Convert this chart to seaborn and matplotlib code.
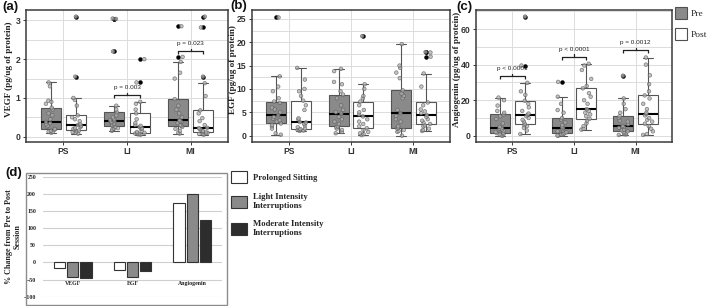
import numpy as np
import pandas as pd
import matplotlib
matplotlib.use("Agg")
import matplotlib.pyplot as plt
from matplotlib.ticker import MultipleLocator
from matplotlib.patches import Rectangle, Patch
import seaborn as sns

sns.set_theme(style="white")
plt.rcParams['font.family'] = ['Liberation Sans', 'DejaVu Sans']

# ---------------- data ----------------
sessions = ["PS", "LI", "MI"]
conditions = ["Pre", "Post"]

vegf_ps_pre = [0.1, 0.12, 0.13, 0.15, 0.18, 0.2, 0.25, 0.28, 0.32, 0.35, 0.38, 0.45, 0.55, 0.6, 0.7, 0.75, 0.85, 0.9, 0.93, 1.3, 1.4]
vegf_ps_post = [0.08, 0.1, 0.12, 0.14, 0.16, 0.18, 0.2, 0.22, 0.25, 0.28, 0.3, 0.32, 0.4, 0.45, 0.5, 0.55, 0.8, 0.95, 1.0, 1.55, 3.1]
vegf_li_pre = [0.15, 0.18, 0.2, 0.22, 0.25, 0.28, 0.3, 0.33, 0.35, 0.38, 0.4, 0.42, 0.45, 0.5, 0.55, 0.63, 0.7, 0.8, 2.2, 3.04, 3.05]
vegf_li_post = [0.05, 0.06, 0.07, 0.08, 0.09, 0.1, 0.12, 0.15, 0.2, 0.22, 0.25, 0.28, 0.3, 0.35, 0.45, 0.6, 0.7, 0.85, 0.9, 1.4, 2.0]
vegf_mi_pre = [0.08, 0.1, 0.15, 0.2, 0.25, 0.28, 0.3, 0.35, 0.38, 0.4, 0.42, 0.5, 0.6, 0.7, 0.8, 0.97, 1.5, 1.65, 1.93, 2.06, 2.85]
vegf_mi_post = [0.05, 0.07, 0.08, 0.1, 0.11, 0.13, 0.15, 0.18, 0.2, 0.22, 0.23, 0.3, 0.4, 0.48, 0.6, 0.68, 1.05, 1.38, 1.55, 2.82, 3.1]

egf_ps_pre = [0.2, 0.5, 1.5, 2.0, 2.3, 2.6, 3.0, 3.3, 3.6, 4.0, 4.4, 5.0, 5.6, 6.0, 7.0, 7.3, 8.0, 9.5, 10.5, 12.7, 25.3]
egf_ps_post = [1.0, 1.1, 1.2, 1.3, 1.4, 1.5, 1.8, 2.2, 2.5, 2.8, 2.9, 3.5, 3.7, 5.5, 6.5, 7.5, 8.5, 9.5, 10.0, 12.0, 14.5]
egf_li_pre = [0.5, 0.8, 1.2, 1.5, 1.8, 2.0, 2.5, 3.0, 3.5, 4.0, 4.7, 5.0, 5.5, 6.5, 8.0, 8.8, 9.5, 11.0, 11.5, 13.8, 14.3]
egf_li_post = [0.1, 0.3, 0.5, 0.8, 1.2, 1.6, 2.0, 2.5, 3.0, 3.5, 4.1, 4.5, 5.0, 5.5, 6.5, 7.3, 8.0, 8.5, 10.0, 11.0, 21.3]
egf_mi_pre = [0.0, 0.8, 1.0, 1.2, 1.5, 1.7, 2.0, 3.0, 3.5, 4.2, 4.8, 5.5, 8.0, 8.5, 9.0, 9.7, 12.3, 13.5, 14.5, 15.0, 19.6]
egf_mi_post = [1.0, 1.2, 1.5, 2.0, 2.2, 2.5, 2.8, 3.2, 3.5, 4.0, 4.4, 4.8, 5.2, 5.6, 6.5, 7.1, 10.5, 13.3, 16.9, 17.8, 17.9]

ang_ps_pre = [0.0, 0.3, 0.8, 1.0, 1.5, 1.8, 2.2, 2.8, 3.5, 4.0, 4.3, 5.0, 7.0, 9.5, 11.0, 12.0, 13.0, 14.0, 17.0, 20.0, 21.5]
ang_ps_post = [1.0, 3.0, 4.5, 5.5, 6.0, 6.8, 8.0, 9.0, 10.0, 11.0, 11.8, 12.5, 14.0, 16.0, 18.0, 19.7, 23.0, 25.0, 29.8, 39.5, 67.0]
ang_li_pre = [0.0, 0.2, 0.5, 0.8, 1.0, 1.5, 2.0, 2.5, 3.0, 3.8, 4.5, 5.0, 6.0, 7.5, 9.0, 10.0, 13.0, 14.5, 18.0, 22.0, 30.3]
ang_li_post = [3.5, 4.0, 5.5, 7.0, 8.5, 9.6, 11.0, 12.0, 13.0, 14.0, 15.0, 18.0, 20.0, 22.0, 24.0, 26.7, 28.0, 32.0, 37.0, 39.5, 40.5]
ang_mi_pre = [0.5, 0.8, 1.0, 1.5, 2.0, 2.5, 3.0, 3.5, 4.5, 5.0, 5.5, 6.5, 8.0, 8.5, 10.0, 11.0, 13.0, 15.0, 18.0, 21.0, 33.8]
ang_mi_post = [0.5, 1.0, 2.5, 4.0, 5.5, 6.8, 8.0, 9.0, 10.0, 11.5, 12.3, 13.0, 15.0, 18.0, 21.0, 22.7, 25.0, 29.0, 34.0, 40.0, 44.0]

vegf_p = [("LI", 1.07, "p = 0.003"), ("MI", 2.2, "p = 0.023")]
ang_p = [("PS", 33.5, "p < 0.0001"), ("LI", 44.3, "p < 0.0001"), ("MI", 48.0, "p = 0.0012")]

markers = ["VEGF", "EGF", "Angiogenin"]
interventions = ["Prolonged Sitting", "Light Intensity\nInterruptions", "Moderate Intensity\nInterruptions"]
pct_ps = [-16, -21, 172]
pct_li = [-43, -42, 201]
pct_mi = [-45, -24, 125]


def long_frame(groups):
    rows = []
    for (s, c), vals in groups.items():
        for v in vals:
            rows.append({"Session": s, "Condition": c, "Value": v})
    return pd.DataFrame(rows)


df_vegf = long_frame({("PS", "Pre"): vegf_ps_pre, ("PS", "Post"): vegf_ps_post,
                      ("LI", "Pre"): vegf_li_pre, ("LI", "Post"): vegf_li_post,
                      ("MI", "Pre"): vegf_mi_pre, ("MI", "Post"): vegf_mi_post})
df_egf = long_frame({("PS", "Pre"): egf_ps_pre, ("PS", "Post"): egf_ps_post,
                     ("LI", "Pre"): egf_li_pre, ("LI", "Post"): egf_li_post,
                     ("MI", "Pre"): egf_mi_pre, ("MI", "Post"): egf_mi_post})
df_ang = long_frame({("PS", "Pre"): ang_ps_pre, ("PS", "Post"): ang_ps_post,
                     ("LI", "Pre"): ang_li_pre, ("LI", "Post"): ang_li_post,
                     ("MI", "Pre"): ang_mi_pre, ("MI", "Post"): ang_mi_post})

df_pct = pd.DataFrame({
    "Marker": markers * 3,
    "Intervention": [interventions[0]] * 3 + [interventions[1]] * 3 + [interventions[2]] * 3,
    "Pct": pct_ps + pct_li + pct_mi,
})

# ---------------- figure ----------------
W, H = 709, 306
fig = plt.figure(figsize=(W / 100, H / 100), dpi=100)


def px_axes(l, t, r, b):
    return fig.add_axes([l / W, 1 - b / H, (r - l) / W, (b - t) / H])


ax_a = px_axes(26, 10, 228, 141.7)
ax_b = px_axes(252, 10, 450, 141.7)
ax_c = px_axes(476, 10, 672, 141.7)

box_pal = {"Pre": "#8a8a8a", "Post": "#ffffff"}
pt_pal = {"Pre": "#b0b0b0", "Post": "#b0b0b0"}
serif = ["Liberation Serif", "DejaVu Serif"]
sans = ["Liberation Sans", "DejaVu Sans"]

panels = [
    (ax_a, df_vegf, "VEGF (pg/ug of protein)", (-0.13, 3.27), 1, 0.5, vegf_p, -0.062),
    (ax_b, df_egf, "EGF (pg/ug of protein)", (-1.3, 26.9), 5, 2.5, [], -0.076),
    (ax_c, df_ang, "Angiogenin (pg/ug of protein)", (-3.3, 70.7), 20, 10, ang_p, -0.077),
]

np.random.seed(3)
for ax, df, ylab, ylim, major, minor, pvals, labx in panels:
    sns.boxplot(data=df, x="Session", y="Value", hue="Condition", order=sessions,
                hue_order=conditions, palette=box_pal, width=0.8, gap=0.2,
                linecolor="#555555", linewidth=0.8, ax=ax, legend=(ax is ax_c),
                medianprops=dict(color="black", linewidth=1.5),
                flierprops=dict(marker="o", markerfacecolor="black", markeredgecolor="black",
                                markersize=2.2))
    sns.stripplot(data=df, x="Session", y="Value", hue="Condition", order=sessions,
                  hue_order=conditions, palette=pt_pal, dodge=True, jitter=0.16,
                  size=2.6, linewidth=0.5, edgecolor="#5a5a5a", alpha=0.75,
                  ax=ax, legend=False)
    ax.set_xlim(-0.59, 2.59)
    ax.set_ylim(*ylim)
    ax.yaxis.set_major_locator(MultipleLocator(major))
    ax.yaxis.set_minor_locator(MultipleLocator(minor))
    ax.grid(axis="y", which="both", color="#dcdcdc", linewidth=0.7)
    ax.grid(axis="x", which="major", color="#dcdcdc", linewidth=0.7)
    ax.set_axisbelow(True)
    for sp in ax.spines.values():
        sp.set_visible(True)
        sp.set_color("#3a3a3a")
        sp.set_linewidth(1.1)
    ax.tick_params(axis="both", which="major", length=2.5, width=0.7, color="#3a3a3a",
                   labelsize=6.2, pad=1.5, labelcolor="#333333", bottom=True, left=True)
    ax.tick_params(axis="both", which="minor", length=0)
    for t in ax.get_xticklabels() + ax.get_yticklabels():
        t.set_fontweight("bold")
        t.set_family(sans)
    ax.set_xlabel("")
    ax.set_ylabel(ylab, family=serif, fontweight="bold", fontsize=6.6, color="#222222")
    ax.yaxis.set_label_coords(labx, 0.55)
    # significance brackets
    pxu = 131.7 / (ylim[1] - ylim[0])
    d = 3.0 / pxu
    for s, y, txt in pvals:
        i = sessions.index(s)
        x0, x1 = i - 0.2, i + 0.2
        ax.plot([x0, x0, x1, x1], [y - d, y, y, y - d], color="#222222", lw=0.9,
                solid_capstyle="butt", zorder=5)
        ax.plot([i, i], [y, y + 0.9 * d], color="#222222", lw=0.9, zorder=5)
        ax.text(i, y + 7.5 / pxu, txt, ha="center", va="center", fontsize=4.6,
                color="#222222", family=sans, zorder=5)

# Pre / Post legend
ax_c.get_legend().remove()
hs = [Patch(facecolor=box_pal[c], edgecolor="#505050", linewidth=0.8) for c in conditions]
fig.legend(hs, conditions, loc="upper left", bbox_to_anchor=(675 / W, 1 - 7 / H),
           frameon=False, prop={"family": serif, "size": 6.8},
           handlelength=1.3, handleheight=1.6, handletextpad=0.35, labelspacing=0.9,
           borderaxespad=0, borderpad=0)

# panel letters
for lbl, x, y in [("(a)", 2, 7), ("(b)", 230, 6), ("(c)", 456, 7), ("(d)", 5, 173)]:
    fig.text(x / W, 1 - y / H, lbl, fontsize=9.5, fontweight="bold", family=sans,
             ha="left", va="center", color="#111111")

# ---------------- panel (d) ----------------
ax_d = px_axes(43, 176.7, 222, 296.7)
bar_pal = {interventions[0]: "#ffffff", interventions[1]: "#8a8a8a", interventions[2]: "#2d2d2d"}
sns.barplot(data=df_pct, x="Marker", y="Pct", hue="Intervention", order=markers,
            hue_order=interventions, palette=bar_pal, width=0.66, gap=0.15,
            edgecolor="#333333", linewidth=0.8, ax=ax_d, legend=True)
ax_d.set_ylim(-100, 250)
ax_d.set_xlim(-0.5, 2.5)
ax_d.yaxis.set_major_locator(MultipleLocator(50))
ax_d.grid(axis="y", color="#cfcfcf", linewidth=0.8)
ax_d.grid(axis="x", visible=False)
ax_d.set_axisbelow(True)
for sp in ax_d.spines.values():
    sp.set_visible(False)
ax_d.tick_params(axis="y", length=0, pad=5, labelsize=4.2)
ax_d.tick_params(axis="x", length=0, pad=-11, labelsize=4.2)
for t in ax_d.get_xticklabels() + ax_d.get_yticklabels():
    t.set_family(serif)
    t.set_fontweight("bold")
    t.set_color("#222222")
ax_d.set_xlabel("")
ax_d.set_ylabel("% Change from Pre to Post\nSession", family=serif, fontweight="bold",
                fontsize=5.8, color="#222222", linespacing=1.1)
ax_d.yaxis.set_label_coords(-21 / 179, 0.5)

# outer chart border of (d)
fig.patches.append(Rectangle((26 / W, 1 - 305 / H), (226.7 - 26) / W, (305 - 172.7) / H,
                             transform=fig.transFigure, fill=False, edgecolor="#8c8c8c",
                             linewidth=1.0))

ax_d.get_legend().remove()
hd = [Patch(facecolor=bar_pal[k], edgecolor="#333333", linewidth=0.8) for k in interventions]
fig.legend(hd, interventions, loc="upper left", bbox_to_anchor=(231 / W, 1 - 171 / H),
           frameon=False, prop={"family": serif, "size": 6.2, "weight": "bold"},
           handlelength=1.8, handleheight=1.8, handletextpad=0.7, labelspacing=1.15,
           borderaxespad=0, borderpad=0)

fig.savefig("out.png", dpi=100, facecolor="white")
